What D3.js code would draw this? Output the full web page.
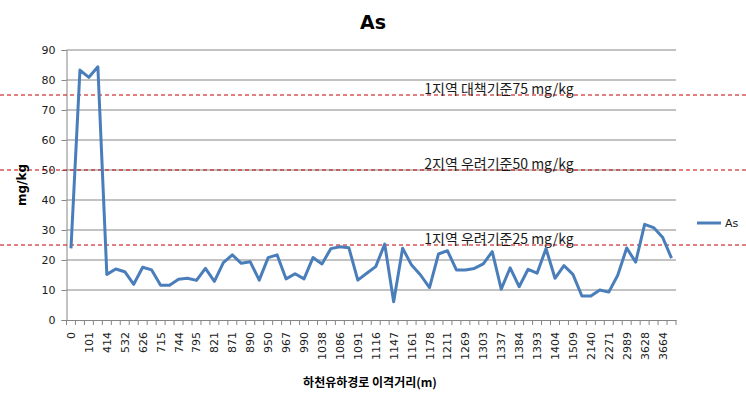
<!DOCTYPE html>
<html><head><meta charset="utf-8">
<script src="https://cdn.jsdelivr.net/npm/d3@7"></script>
<style>body{margin:0;background:#fff;font-family:"Malgun Gothic","Noto Sans CJK KR",sans-serif}</style>
</head><body><svg id="c" width="746" height="401"></svg>
<script>
const tickLabels = ["0","101","414","532","626","715","744","795","821","871","890","950","967","990","1038","1086","1091","1116","1147","1161","1178","1211","1269","1303","1337","1384","1393","1404","1509","2140","2271","2989","3628","3664"];
const asValues = [23.9,83.3,80.9,84.4,15.2,17.0,16.1,11.9,17.6,16.7,11.6,11.6,13.6,13.9,13.2,17.2,12.9,19.1,21.7,18.9,19.4,13.3,20.8,21.7,13.7,15.4,13.7,20.8,18.7,23.8,24.4,24.1,13.3,15.6,17.8,25.3,6.1,23.9,18.3,15.0,10.8,22.0,23.1,16.7,16.7,17.2,18.7,22.8,10.3,17.4,11.1,16.9,15.6,23.8,13.9,18.1,15.2,8.0,8.0,10.0,9.3,14.9,24.0,19.3,31.9,30.8,27.6,20.6];
const yTicks = [0,10,20,30,40,50,60,70,80,90];
const limits = [75,50,25];
const limitLabels = ["1지역 대책기준75 mg/kg","2지역 우려기준50 mg/kg","1지역 우려기준25 mg/kg"];

const svg = d3.select("#c");
const L=66.5, R=676, T=50, B=320;
const x = d3.scaleBand().domain(d3.range(asValues.length)).range([L,R]);
const y = d3.scaleLinear().domain([0,90]).range([B,T]);
const grid="#868686", txt="#1a1a1a";

// gridlines
svg.append("g").selectAll("line").data(yTicks.filter(v=>v>0)).join("line")
  .attr("x1",L).attr("x2",R).attr("y1",d=>y(d)).attr("y2",d=>y(d))
  .attr("stroke",grid).attr("stroke-width",1);

// y axis
const ya = svg.append("g").attr("transform",`translate(${L},0)`)
  .call(d3.axisLeft(y).tickValues(yTicks).tickSize(5).tickPadding(6));
ya.select(".domain").attr("stroke",grid);
ya.selectAll(".tick line").attr("stroke",grid);
ya.selectAll("text").attr("fill",txt).style("font-size","11px").style("font-family","'DejaVu Sans',sans-serif");

// x axis
const xa = svg.append("g").attr("transform",`translate(0,${B})`)
  .call(d3.axisBottom(x).tickSize(0).tickFormat(""));
xa.select(".domain").attr("stroke",grid);
xa.selectAll(".tick").remove();
const bounds = d3.range(asValues.length+1).map(i=> L + i*x.step());
xa.selectAll("line.tk").data(bounds).join("line").attr("class","tk")
  .attr("x1",d=>d).attr("x2",d=>d).attr("y1",0).attr("y2",5).attr("stroke",grid);
xa.selectAll("text.lb").data(tickLabels).join("text").attr("class","lb")
  .attr("transform",(d,i)=>`translate(${x(i*2)+x.bandwidth()/2+4},12) rotate(-90)`)
  .attr("text-anchor","end").attr("fill",txt)
  .style("font-size","11px").style("font-family","'DejaVu Sans',sans-serif").text(d=>d);

// limit lines
svg.append("g").selectAll("line").data(limits).join("line")
  .attr("x1",0).attr("x2",746).attr("y1",d=>y(d)).attr("y2",d=>y(d))
  .attr("stroke","#c00000").attr("stroke-width",1).attr("stroke-dasharray","4,3");
svg.append("g").selectAll("text").data(limitLabels).join("text")
  .attr("x",499).attr("y",(d,i)=>y(limits[i])-1).attr("text-anchor","middle")
  .attr("fill",txt).style("font-size","14px").text(d=>d);

// series
svg.append("path").datum(asValues)
  .attr("d",d3.line().x((d,i)=>x(i)+x.bandwidth()/2).y(d=>y(d)))
  .attr("fill","none").attr("stroke","#4a7ebb").attr("stroke-width",3).attr("stroke-linejoin","round");

// legend
svg.append("line").attr("x1",697).attr("x2",721).attr("y1",223).attr("y2",223).attr("stroke","#4a7ebb").attr("stroke-width",3);
svg.append("text").attr("x",725).attr("y",227).attr("fill",txt).style("font-size","11px").style("font-family","'DejaVu Sans',sans-serif").text("As");

// titles
svg.append("text").attr("x",373).attr("y",29).attr("text-anchor","middle").attr("fill","#000")
  .style("font-size","19px").style("font-weight","bold").style("font-family","'DejaVu Sans',sans-serif").text("As");
svg.append("text").attr("transform","translate(26,185) rotate(-90)").attr("text-anchor","middle").attr("fill","#000")
  .style("font-size","12px").style("font-weight","bold").style("font-family","'DejaVu Sans',sans-serif").text("mg/kg");
svg.append("text").attr("x",370).attr("y",387).attr("text-anchor","middle").attr("fill","#000")
  .style("font-size","12px").style("font-weight","bold").text("하천유하경로 이격거리(m)");
</script></body></html>
